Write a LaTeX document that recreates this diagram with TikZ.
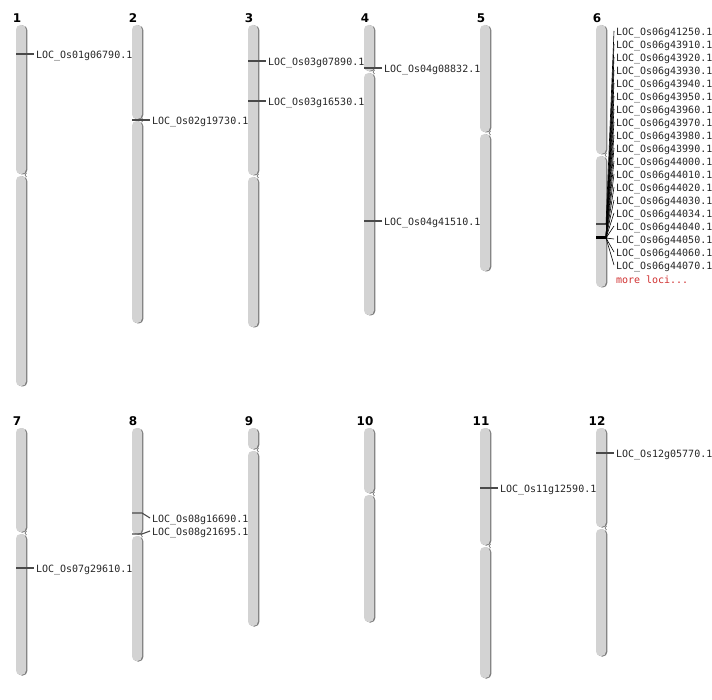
\documentclass[tikz,border=0pt]{standalone}
\usepackage{fontspec}
\setmainfont{DejaVu Sans}
\setmonofont{DejaVu Sans Mono}
\usetikzlibrary{shadows}
\definecolor{armgray}{HTML}{D3D3D3}
\definecolor{edgegray}{HTML}{7A7A7A}
\definecolor{tickgray}{HTML}{4A4A4A}
\definecolor{lociRed}{HTML}{D03030}

\begin{document}
\begin{tikzpicture}[x=1pt, y=-1pt,
        arm/.style={fill=armgray, rounded corners=4.5pt, drop shadow={shadow xshift=1.3pt, shadow yshift=-0.5pt, fill=edgegray, opacity=1}},
        notch/.style={draw=edgegray, line width=0.7pt},
        chrnum/.style={font=\bfseries\fontsize{12}{14}\selectfont, inner sep=0pt},
        locus/.style={font=\ttfamily\fontsize{10}{12}\selectfont, text=black!85, inner sep=0pt, outer xsep=2pt, anchor=west, yshift=-2pt},
        tick/.style={draw=tickgray, line width=1.1pt},
        fan/.style={draw=black, line width=0.6pt}
    ]
        \useasboundingbox (0,0) rectangle (712,700);

        % Top row - chromosomes 1 to 6
        \path[arm] (16,25) rectangle (26,174);  \path[arm] (16,176) rectangle (26,386);
        \path[arm] (132,25) rectangle (142,119); \path[arm] (132,121) rectangle (142,323);
        \path[arm] (248,25) rectangle (258,175); \path[arm] (248,177) rectangle (258,327);
        \path[arm] (364,25) rectangle (374,71);  \path[arm] (364,73) rectangle (374,315);
        \path[arm] (480,25) rectangle (490,132); \path[arm] (480,134) rectangle (490,271);
        \path[arm] (596,25) rectangle (606,154); \path[arm] (596,156) rectangle (606,287);

        % Bottom row - chromosomes 7 to 12
        \path[arm] (16,428) rectangle (26,532);  \path[arm] (16,534) rectangle (26,675);
        \path[arm] (132,428) rectangle (142,534); \path[arm] (132,536) rectangle (142,661);
        \path[arm] (248,428) rectangle (258,449); \path[arm] (248,451) rectangle (258,626);
        \path[arm] (364,428) rectangle (374,493); \path[arm] (364,495) rectangle (374,622);
        \path[arm] (480,428) rectangle (490,545); \path[arm] (480,547) rectangle (490,678);
        \path[arm] (596,428) rectangle (606,527); \path[arm] (596,529) rectangle (606,656);

        % Centromeres
        \draw[notch] (26.5,173) -- (25,175) -- (26.5,177);
        \draw[notch] (142.5,118) -- (141,120) -- (142.5,122);
        \draw[notch] (258.5,174) -- (257,176) -- (258.5,178);
        \draw[notch] (374.5,70) -- (373,72) -- (374.5,74);
        \draw[notch] (490.5,131) -- (489,133) -- (490.5,135);
        \draw[notch] (606.5,153) -- (605,155) -- (606.5,157);
        \draw[notch] (26.5,531) -- (25,533) -- (26.5,535);
        \draw[notch] (142.5,533) -- (141,535) -- (142.5,537);
        \draw[notch] (258.5,448) -- (257,450) -- (258.5,452);
        \draw[notch] (374.5,492) -- (373,494) -- (374.5,496);
        \draw[notch] (490.5,544) -- (489,546) -- (490.5,548);
        \draw[notch] (606.5,526) -- (605,528) -- (606.5,530);

        % Chromosome numbers
        \node[chrnum] (n1) at (17,18.5) {1};
        \node[chrnum] (n2) at (133,18.5) {2};
        \node[chrnum] (n3) at (249,18.5) {3};
        \node[chrnum] (n4) at (365,18.5) {4};
        \node[chrnum] (n5) at (481,18.5) {5};
        \node[chrnum] (n6) at (597,18.5) {6};
        \node[chrnum] (n7) at (17,421.5) {7};
        \node[chrnum] (n8) at (133,421.5) {8};
        \node[chrnum] (n9) at (249,421.5) {9};
        \node[chrnum] (n10) at (365,421.5) {10};
        \node[chrnum] (n11) at (481,421.5) {11};
        \node[chrnum] (n12) at (597,421.5) {12};

        % Single loci
        \coordinate (m1) at (16,54);
        \node[locus] (l1) at (34,54) {LOC\_Os01g06790.1};
        \draw[tick] (m1) -- (m1 -| l1.west);
        \coordinate (m2) at (132,120);
        \node[locus] (l2) at (150,120) {LOC\_Os02g19730.1};
        \draw[tick] (m2) -- (m2 -| l2.west);
        \coordinate (m3a) at (248,61);
        \node[locus] (l3a) at (266,61) {LOC\_Os03g07890.1};
        \draw[tick] (m3a) -- (m3a -| l3a.west);
        \coordinate (m3b) at (248,101);
        \node[locus] (l3b) at (266,101) {LOC\_Os03g16530.1};
        \draw[tick] (m3b) -- (m3b -| l3b.west);
        \coordinate (m4a) at (364,68);
        \node[locus] (l4a) at (382,68) {LOC\_Os04g08832.1};
        \draw[tick] (m4a) -- (m4a -| l4a.west);
        \coordinate (m4b) at (364,221);
        \node[locus] (l4b) at (382,221) {LOC\_Os04g41510.1};
        \draw[tick] (m4b) -- (m4b -| l4b.west);
        \coordinate (m7) at (16,568);
        \node[locus] (l7) at (34,568) {LOC\_Os07g29610.1};
        \draw[tick] (m7) -- (m7 -| l7.west);
        \coordinate (m8a) at (132,513);
        \node[locus] (l8a) at (150,518) {LOC\_Os08g16690.1};
        \draw[tick] (m8a) -- ++(10,0) -- ([yshift=2pt]l8a.west);
        \coordinate (m8b) at (132,534);
        \node[locus] (l8b) at (150,531) {LOC\_Os08g21695.1};
        \draw[tick] (m8b) -- ++(10,0) -- ([yshift=2pt]l8b.west);
        \coordinate (m11) at (480,488);
        \node[locus] (l11) at (498,488) {LOC\_Os11g12590.1};
        \draw[tick] (m11) -- (m11 -| l11.west);
        \coordinate (m12) at (596,453);
        \node[locus] (l12) at (614,453) {LOC\_Os12g05770.1};
        \draw[tick] (m12) -- (m12 -| l12.west);

        % Chromosome 6 cluster
        \coordinate (m6a) at (596,224);
        \coordinate (m6b) at (596,238);
        \draw[tick] (m6a) -- ++(10,0) coordinate (h6a);
        \draw[tick, draw=black, line width=3pt] (m6b) -- ++(10,0) coordinate (h6b);
        \node[locus] (l6a) at (614,31) {LOC\_Os06g41250.1};
        \node[locus] (l6b) at (614,44) {LOC\_Os06g43910.1};
        \node[locus] (l6c) at (614,57) {LOC\_Os06g43920.1};
        \node[locus] (l6d) at (614,70) {LOC\_Os06g43930.1};
        \node[locus] (l6e) at (614,83) {LOC\_Os06g43940.1};
        \node[locus] (l6f) at (614,96) {LOC\_Os06g43950.1};
        \node[locus] (l6g) at (614,109) {LOC\_Os06g43960.1};
        \node[locus] (l6h) at (614,122) {LOC\_Os06g43970.1};
        \node[locus] (l6i) at (614,135) {LOC\_Os06g43980.1};
        \node[locus] (l6j) at (614,148) {LOC\_Os06g43990.1};
        \node[locus] (l6k) at (614,161) {LOC\_Os06g44000.1};
        \node[locus] (l6l) at (614,174) {LOC\_Os06g44010.1};
        \node[locus] (l6m) at (614,187) {LOC\_Os06g44020.1};
        \node[locus] (l6n) at (614,200) {LOC\_Os06g44030.1};
        \node[locus] (l6o) at (614,213) {LOC\_Os06g44034.1};
        \node[locus] (l6p) at (614,226) {LOC\_Os06g44040.1};
        \node[locus] (l6q) at (614,239) {LOC\_Os06g44050.1};
        \node[locus] (l6r) at (614,252) {LOC\_Os06g44060.1};
        \node[locus] (l6s) at (614,265) {LOC\_Os06g44070.1};
        \node[locus, text=lociRed] (more6) at (614,278) {more loci...};
        \draw[fan] (h6a) -- ([yshift=2pt]l6a.west);
        \draw[fan] (h6b) -- ([yshift=2pt]l6b.west);
        \draw[fan] (h6b) -- ([yshift=2pt]l6c.west);
        \draw[fan] (h6b) -- ([yshift=2pt]l6d.west);
        \draw[fan] (h6b) -- ([yshift=2pt]l6e.west);
        \draw[fan] (h6b) -- ([yshift=2pt]l6f.west);
        \draw[fan] (h6b) -- ([yshift=2pt]l6g.west);
        \draw[fan] (h6b) -- ([yshift=2pt]l6h.west);
        \draw[fan] (h6b) -- ([yshift=2pt]l6i.west);
        \draw[fan] (h6b) -- ([yshift=2pt]l6j.west);
        \draw[fan] (h6b) -- ([yshift=2pt]l6k.west);
        \draw[fan] (h6b) -- ([yshift=2pt]l6l.west);
        \draw[fan] (h6b) -- ([yshift=2pt]l6m.west);
        \draw[fan] (h6b) -- ([yshift=2pt]l6n.west);
        \draw[fan] (h6b) -- ([yshift=2pt]l6o.west);
        \draw[fan] (h6b) -- ([yshift=2pt]l6p.west);
        \draw[fan] (h6b) -- ([yshift=2pt]l6q.west);
        \draw[fan] (h6b) -- ([yshift=2pt]l6r.west);
        \draw[fan] (h6b) -- ([yshift=2pt]l6s.west);
    \end{tikzpicture}
\end{document}
